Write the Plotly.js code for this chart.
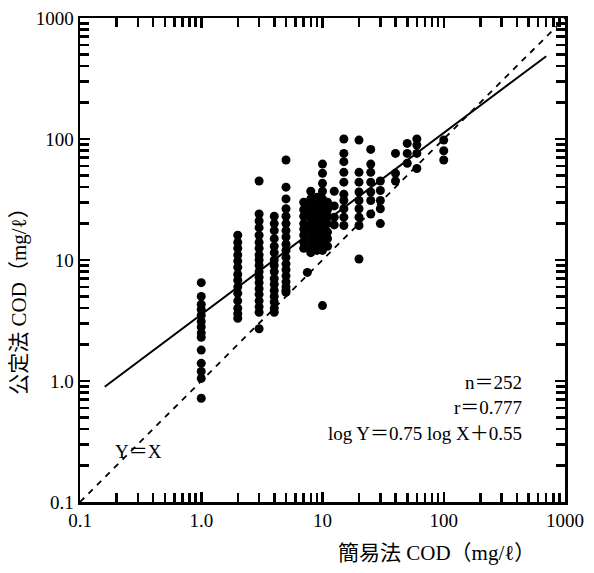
<!DOCTYPE html>
<html><head><meta charset="utf-8">
<script src="https://cdn.plot.ly/plotly-3.0.1.min.js"></script>
<style>html,body{margin:0;padding:0;background:#fff}#chart{width:594px;height:573px}</style>
</head><body><div id="chart"></div>
<script>
// Data: simple method COD (x) vs official method COD (y), mg/l
const x1 = [1,1,1,1,1,1,1,1,1,1,1,1,1,1];
const y1 = [6.5,5.0,4.3,3.9,3.5,3.1,2.8,2.5,2.3,1.8,1.4,1.2,1.05,0.72];
const x2 = [2,2,2,2,2,2,2,2,2,2,2,2,2,2];
const y2 = [16,14,12.5,11,9.8,8.7,7.6,6.8,6.0,5.3,4.6,4.0,3.6,3.3];
const x3 = [3,3,3,3,3,3,3,3,3,3,3,3,3,3,3,3,3,3,3];
const y3 = [45,24,21,18.5,16,14,12.5,11,10,9,8,7.2,6.5,5.8,5.2,4.6,4.1,3.7,2.7];
const x4 = [4,4,4,4,4,4,4,4,4,4,4,4,4,4,4,4];
const y4 = [23,20,17.5,15,13,11.5,10,9,8,7,6.3,5.6,5.0,4.5,4.0,3.7];
const x5 = [5,5,5,5,5,5,5,5,5,5,5,5,5,5,5,5,5,5];
const y5 = [67,40,32,26.5,23,20,17.5,15.5,13.5,12,10.5,9.3,8.3,7.4,6.6,6.0,5.6,5.4];
const x7 = [7,7,7,7,7,7,7,7,7.5];
const y7 = [30,26,23,20,18,16,14,12.5,7.9];
const x8 = [8,8,8,8,8,8,8,8,8,8,8];
const y8 = [37,32,28,25,22,19.5,17.5,15.5,14,12.5,11.5];
const x9 = [9,9,9,9,9,9,9,9,9,9];
const y9 = [33,29,26,23,21,19,17,15,13.5,12];
const x10 = [10,10,10,10,10,10,10,10,10,10,10,10,10,10,10];
const y10 = [62,52,43,37,32,28,25,22.5,20,18,16,14.5,13,12,4.2];
const x11 = [11,11,11,11,11,11,11];
const y11 = [30,26,23,20,17,15,13];
const x12 = [12.5,12.5,12.5,12.5];
const y12 = [37,28,22.6,19.5];
const x15 = [15,15,15,15,15,15,15,15,15,15];
const y15 = [100,76,65,53,44,35,31,26.5,22.6,19.3];
const x20 = [20,20,20,20,20,20,20,20,20];
const y20 = [98,53,44,36.5,31,26.5,22.6,19.3,10.2];
const x25 = [25,25,25,25,25,25,25];
const y25 = [82,62,53,44,36.5,31,24];
const x30 = [30,30,30,30,30];
const y30 = [45,37.5,31,26.5,20];
const x40 = [40,40,40];
const y40 = [76,52,45];
const x50 = [50,50,50];
const y50 = [92,76,63];
const x60 = [60,60,60,60];
const y60 = [100,89,76,57];
const x100 = [100,100,100];
const y100 = [98,80,67];

const slope = 0.75, intercept = 0.55;
const fitX = [0.16, 700];
const fitY = fitX.map(v => Math.pow(10, slope*Math.log10(v) + intercept));
const idX = [0.1, 1000];
const idY = [0.1, 1000];

const tickVals = [0.1, 1, 10, 100, 1000];
const tickText = ['0.1', '1.0', '10', '100', '1000'];
const decades = [0.1, 1, 10, 100];
const minorDigits = [2, 3, 4, 5, 6, 7, 8, 9];

const allX = [].concat(x1,x2,x3,x4,x5,x7,x8,x9,x10,x11,x12,x15,x20,x25,x30,x40,x50,x60,x100);
const allY = [].concat(y1,y2,y3,y4,y5,y7,y8,y9,y10,y11,y12,y15,y20,y25,y30,y40,y50,y60,y100);

const serif = '"Liberation Serif", "Noto Sans CJK JP", serif';

const minorVals = [];
decades.forEach(d => minorDigits.forEach(k => minorVals.push(d*k)));

const traces = [
  {x: idX, y: idY, mode: 'lines', line: {color: '#000', width: 1.8, dash: '6px,6px'}, hoverinfo: 'skip'},
  {x: fitX, y: fitY, mode: 'lines', line: {color: '#000', width: 2}, hoverinfo: 'skip'},
  {x: allX, y: allY, mode: 'markers', marker: {color: '#000', size: 9}}
];

function axis(extra) {
  return Object.assign({
    type: 'log', range: [-1, 3],
    tickmode: 'array', tickvals: tickVals, ticktext: tickText,
    ticks: 'inside', ticklen: 10, tickwidth: 2.5, tickcolor: '#000000',
    showline: true, linecolor: '#000000', linewidth: 2.5, mirror: 'ticks',
    showgrid: false, zeroline: false,
    tickfont: {family: serif, size: 19, color: '#000'},
    minor: {tickvals: minorVals, ticks: 'inside', ticklen: 9, tickwidth: 2.5, tickcolor: '#000000', showgrid: false}
  }, extra || {});
}

const layout = {
  width: 594, height: 573,
  margin: {l: 80, r: 29, t: 18, b: 71},
  paper_bgcolor: '#ffffff', plot_bgcolor: 'rgba(0,0,0,0)',
  showlegend: false,
  xaxis: axis(),
  yaxis: axis(),
  annotations: [
    {xref: 'paper', yref: 'paper', x: 0.736, y: -0.106, text: '簡易法 COD（mg/ℓ）', showarrow: false,
     font: {family: serif, size: 21, color: '#000'}, xanchor: 'center', yanchor: 'middle'},
    {xref: 'paper', yref: 'paper', x: -0.125, y: 0.425, text: '公定法 COD（mg/ℓ）', showarrow: false, textangle: -90,
     font: {family: serif, size: 21, color: '#000'}, xanchor: 'center', yanchor: 'middle'},
    {xref: 'paper', yref: 'paper', x: 0.915, y: 0.247, text: 'n＝252', showarrow: false,
     font: {family: serif, size: 19, color: '#000'}, xanchor: 'right', yanchor: 'middle'},
    {xref: 'paper', yref: 'paper', x: 0.915, y: 0.195, text: 'r＝0.777', showarrow: false,
     font: {family: serif, size: 19, color: '#000'}, xanchor: 'right', yanchor: 'middle'},
    {xref: 'paper', yref: 'paper', x: 0.915, y: 0.141, text: 'log Y＝0.75 log X＋0.55', showarrow: false,
     font: {family: serif, size: 19, color: '#000'}, xanchor: 'right', yanchor: 'middle'},
    {xref: 'paper', yref: 'paper', x: 0.12, y: 0.104, text: 'Y＝X', showarrow: false,
     font: {family: serif, size: 19, color: '#000'}, xanchor: 'center', yanchor: 'middle'}
  ]
};

Plotly.newPlot('chart', traces, layout, {staticPlot: true});
</script>
</body></html>
